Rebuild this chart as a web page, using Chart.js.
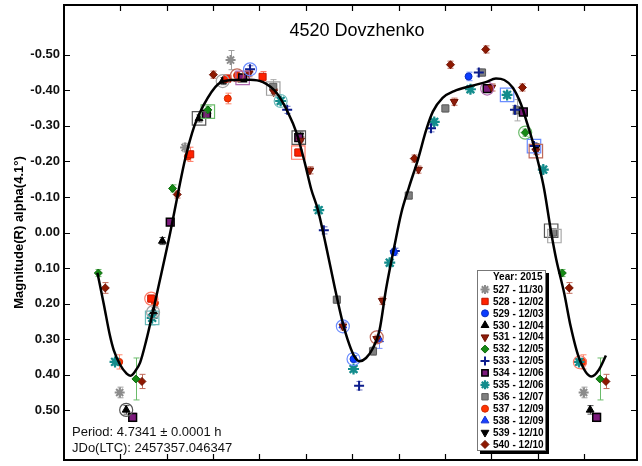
<!DOCTYPE html>
<html>
<head>
<meta charset="utf-8">
<script src="https://cdn.jsdelivr.net/npm/chart.js@4.4.1/dist/chart.umd.min.js"></script>
<style>
  body { margin: 0; background: #fff; }
  canvas { display: block; }
</style>
</head>
<body>
<canvas id="lcChart" width="642" height="466"></canvas>
<script>
// Lightcurve of 4520 Dovzhenko, phased to P = 4.7341 h
const yTicks = [-0.5, -0.4, -0.3, -0.2, -0.1, 0, 0.1, 0.2, 0.3, 0.4, 0.5];
const xTicks = [0, 0.1, 0.2, 0.3, 0.4, 0.5, 0.6, 0.7, 0.8, 0.9, 1.0];

// Fourier fit
const curvePhase = [-0.049, -0.035, -0.022, -0.014, 0.000, 0.014, 0.022, 0.032, 0.043, 0.056,
  0.086, 0.108, 0.125, 0.140, 0.160, 0.179, 0.211, 0.244, 0.280, 0.308, 0.337, 0.362, 0.380,
  0.398, 0.412, 0.426, 0.444, 0.462, 0.480, 0.490, 0.503, 0.516, 0.530, 0.545, 0.559, 0.573,
  0.591, 0.606, 0.622, 0.642, 0.660, 0.674, 0.695, 0.720, 0.756, 0.788, 0.810, 0.828, 0.846,
  0.864, 0.878, 0.892, 0.903, 0.914, 0.929, 0.940, 0.957, 0.971, 0.989, 1.016, 1.032, 1.047];
const curveMag = [0.113, 0.203, 0.290, 0.330, 0.372, 0.397, 0.403, 0.391, 0.366, 0.305,
  0.132, 0.000, -0.112, -0.206, -0.300, -0.356, -0.417, -0.429, -0.430, -0.423, -0.393, -0.337, -0.281,
  -0.196, -0.121, -0.065, 0.039, 0.151, 0.255, 0.300, 0.344, 0.362, 0.353, 0.325, 0.275, 0.160,
  0.039, -0.055, -0.125, -0.206, -0.290, -0.340, -0.379, -0.398, -0.412, -0.423, -0.433, -0.429, -0.408,
  -0.361, -0.304, -0.243, -0.187, -0.121, 0.000, 0.076, 0.170, 0.264, 0.353, 0.405, 0.386, 0.346];

// session points: [phase, mag, error]
const s527 = [[0.140, -0.239, 0.012], [0.238, -0.485, 0.027], [0.999, 0.450, 0.015]];
const s528 = [[0.067, 0.186, 0.010], [0.151, -0.220, 0.020], [0.231, -0.433, 0.010], [0.307, -0.438, 0.015], [0.384, -0.225, 0.010]];
const s529 = [[0.503, 0.356, 0.010], [0.590, 0.055, 0.010], [0.751, -0.439, 0.012]];
const s530 = [[0.013, 0.499, 0.012], [0.072, 0.222, 0.010], [0.091, 0.024, 0.010], [0.170, -0.321, 0.010], [0.221, -0.426, 0.010]];
const s531 = [[0.278, -0.448, 0.010], [0.331, -0.395, 0.010], [0.389, -0.259, 0.010], [0.409, -0.175, 0.010], [0.480, 0.264, 0.010],
  [0.553, 0.299, 0.010], [0.565, 0.192, 0.010], [0.643, -0.177, 0.010], [0.720, -0.368, 0.010], [0.801, -0.408, 0.010], [0.896, -0.229, 0.010]];
const s532 = [[0.034, 0.412, 0.059], [0.113, -0.124, 0.010], [0.189, -0.345, 0.010], [0.873, -0.281, 0.010], [0.953, 0.114, 0.010]];
const s533 = [[0.280, -0.459, 0.010], [0.360, -0.345, 0.010], [0.439, -0.006, 0.010], [0.515, 0.431, 0.012], [0.592, 0.052, 0.008],
  [0.670, -0.293, 0.010], [0.773, -0.450, 0.010], [0.851, -0.345, 0.012], [0.892, -0.243, 0.010]];
const s534 = [[0.027, 0.520, 0.012], [0.108, -0.029, 0.010], [0.186, -0.332, 0.010], [0.264, -0.435, 0.010], [0.385, -0.267, 0.010],
  [0.791, -0.405, 0.010], [0.869, -0.339, 0.010]];
const s535 = [[0.069, 0.240, 0.020], [0.346, -0.370, 0.010], [0.428, -0.063, 0.010], [0.503, 0.384, 0.010], [0.581, 0.085, 0.010],
  [0.677, -0.311, 0.010], [0.755, -0.403, 0.010], [0.834, -0.387, 0.010], [0.912, -0.177, 0.010], [0.989, 0.364, 0.010]];
const s536 = [[0.330, -0.410, 0.020], [0.467, 0.189, 0.010], [0.545, 0.334, 0.012], [0.622, -0.104, 0.010], [0.701, -0.349, 0.010],
  [0.780, -0.450, 0.010], [0.855, -0.344, 0.030], [0.933, 0.000, 0.010]];
const s537 = [[0.075, 0.198, 0.010], [0.146, -0.214, 0.010], [0.232, -0.377, 0.015], [0.252, -0.442, 0.010], [0.998, 0.364, 0.020]];
const s538 = [[0.480, 0.262, 0.010], [0.559, 0.301, 0.025]];
const s539 = [[0.387, -0.273, 0.010], [0.897, -0.240, 0.010]];
const s540 = [[0.047, 0.419, 0.020], [0.123, -0.107, 0.010], [0.201, -0.444, 0.010], [0.634, -0.208, 0.010], [0.712, -0.472, 0.010],
  [0.788, -0.515, 0.010], [0.867, -0.408, 0.010], [0.968, 0.156, 0.015]];

// highlighted points: [phase, mag, session colour, shape]
const rings = [
  [0.067, 0.186, '528', 'o'], [0.069, 0.240, '535', 's'], [0.071, 0.224, '527', 'o'], [0.013, 0.499, '530', 'o'],
  [0.170, -0.321, '530', 's'], [0.189, -0.340, '532', 's'], [0.221, -0.426, '527', 'o'], [0.252, -0.442, '540', 'o'],
  [0.264, -0.435, '534', 's'], [0.280, -0.459, '529', 'o'], [0.330, -0.405, '527', 's'], [0.346, -0.370, '535', 'o'],
  [0.385, -0.267, '530', 's'], [0.384, -0.225, '528', 's'], [0.480, 0.264, '529', 'o'], [0.503, 0.356, '529', 'o'],
  [0.553, 0.295, '540', 'o'], [0.791, -0.405, '534', 'o'], [0.834, -0.387, '529', 's'], [0.873, -0.281, '532', 'o'],
  [0.892, -0.243, '529', 's'], [0.896, -0.229, '540', 's'], [0.929, -0.005, '530', 's'], [0.936, 0.010, '536', 's'],
  [0.991, 0.365, '528', 'o']
];

const sessions = [
  { id: '527', date: '11/30', pts: s527, style: 'star', fill: '#8c8c8c', edge: '#8c8c8c', bw: 2, r: 5, bar: '#a0a0a0' },
  { id: '528', date: '12/02', pts: s528, style: 'rect', fill: '#ff2200', edge: '#c01800', bw: 1, r: 5, bar: '#ff7a66' },
  { id: '529', date: '12/03', pts: s529, style: 'circle', fill: '#0a3cff', edge: '#0a2cc0', bw: 1, r: 3.5, bar: '#6a8cff' },
  { id: '530', date: '12/04', pts: s530, style: 'triangle', fill: '#000000', edge: '#000000', bw: 1, r: 4.5, bar: '#555555' },
  { id: '531', date: '12/04', pts: s531, style: 'triangle', rot: 180, fill: '#8e1c0a', edge: '#6e1000', bw: 1, r: 4.5, bar: '#c06a5a' },
  { id: '532', date: '12/05', pts: s532, style: 'rectRot', fill: '#158a15', edge: '#0f6a0f', bw: 1, r: 4, bar: '#6abb6a' },
  { id: '533', date: '12/05', pts: s533, style: 'cross', fill: '#0c1c8c', edge: '#0c1c8c', bw: 2, r: 5, bar: '#6a74c0' },
  { id: '534', date: '12/06', pts: s534, style: 'rect', fill: '#7c1a7c', edge: '#000000', bw: 1.5, r: 5.5, bar: '#b06ab0' },
  { id: '535', date: '12/06', pts: s535, style: 'star', fill: '#138c8c', edge: '#138c8c', bw: 2.2, r: 5.5, bar: '#6ababa' },
  { id: '536', date: '12/07', pts: s536, style: 'rect', fill: '#808080', edge: '#5a5a5a', bw: 1, r: 5, bar: '#a8a8a8' },
  { id: '537', date: '12/09', pts: s537, style: 'circle', fill: '#ff3300', edge: '#d02800', bw: 1, r: 3.5, bar: '#ff8a70' },
  { id: '538', date: '12/09', pts: s538, style: 'triangle', fill: '#1a40ff', edge: '#1030d0', bw: 1, r: 4.5, bar: '#7a90ff' },
  { id: '539', date: '12/10', pts: s539, style: 'triangle', rot: 180, fill: '#000000', edge: '#000000', bw: 1, r: 4.5, bar: '#555555' },
  { id: '540', date: '12/10', pts: s540, style: 'rectRot', fill: '#8e1800', edge: '#6e1000', bw: 1, r: 4, bar: '#c06a5a' }
];
const sessionById = {};
sessions.forEach(s => { sessionById[s.id] = s; });

// points near the ends of the cycle are repeated one period over
function wrapPoints(pts) {
  const out = [];
  pts.forEach(([p, m, e]) => {
    out.push({ x: p, y: m, e: e });
    if (p < 0.05) out.push({ x: p + 1, y: m, e: e });
    if (p > 0.95) out.push({ x: p - 1, y: m, e: e });
  });
  return out;
}

const FONT = "'Liberation Sans', Arial, sans-serif";
Chart.defaults.font.family = FONT;

const datasets = [{
  label: 'fit',
  data: curvePhase.map((p, i) => ({ x: p, y: curveMag[i] })),
  showLine: true,
  borderColor: '#000',
  borderWidth: 2.5,
  pointRadius: 0,
  cubicInterpolationMode: 'monotone',
  order: 0
}, {
  label: 'rings',
  data: rings.map(r => ({ x: r[0], y: r[1] })),
  pointStyle: ctx => rings[ctx.dataIndex][3] === 'o' ? 'circle' : 'rect',
  pointRadius: ctx => rings[ctx.dataIndex][3] === 'o' ? 6.5 : 9.5,
  backgroundColor: 'rgba(0,0,0,0)',
  borderColor: ctx => sessionById[rings[ctx.dataIndex][2]].bar,
  borderWidth: 1.2,
  order: 1
}];

sessions.forEach(s => {
  datasets.push({
    label: s.id + ' - ' + s.date,
    data: wrapPoints(s.pts),
    pointStyle: s.style,
    rotation: s.rot || 0,
    pointRadius: s.r,
    backgroundColor: s.fill,
    borderColor: s.edge,
    borderWidth: s.bw,
    errColor: s.bar,
    order: 2
  });
});

// vertical error bars behind the markers
const errorBars = {
  id: 'errorBars',
  beforeDatasetsDraw(chart) {
    const { ctx, scales: { x, y } } = chart;
    ctx.save();
    ctx.lineWidth = 1;
    chart.data.datasets.forEach(ds => {
      if (!ds.errColor) return;
      ctx.strokeStyle = ds.errColor;
      ds.data.forEach(pt => {
        const px = Math.round(x.getPixelForValue(pt.x)) + 0.5;
        const y1 = y.getPixelForValue(pt.y - pt.e);
        const y2 = y.getPixelForValue(pt.y + pt.e);
        ctx.beginPath();
        ctx.moveTo(px, y1); ctx.lineTo(px, y2);
        ctx.moveTo(px - 3, y1); ctx.lineTo(px + 3, y1);
        ctx.moveTo(px - 3, y2); ctx.lineTo(px + 3, y2);
        ctx.stroke();
      });
    });
    ctx.restore();
  }
};

// frame, inward ticks, title, period text and session key
const decorations = {
  id: 'decorations',
  afterDraw(chart) {
    const { ctx, chartArea: a, scales: { x, y } } = chart;
    const H = Chart.helpers;
    ctx.save();

    ctx.strokeStyle = '#000';
    ctx.lineWidth = 1.2;
    ctx.beginPath();
    yTicks.forEach(v => {
      const py = Math.round(y.getPixelForValue(v)) + 0.5;
      ctx.moveTo(a.left, py); ctx.lineTo(a.left + 6, py);
      ctx.moveTo(a.right, py); ctx.lineTo(a.right - 6, py);
    });
    xTicks.forEach(v => {
      const px = Math.round(x.getPixelForValue(v)) + 0.5;
      ctx.moveTo(px, a.top); ctx.lineTo(px, a.top + 6);
      ctx.moveTo(px, a.bottom); ctx.lineTo(px, a.bottom - 6);
    });
    ctx.stroke();

    ctx.lineWidth = 2;
    ctx.strokeRect(a.left, a.top, a.right - a.left, a.bottom - a.top);

    ctx.fillStyle = '#000';
    ctx.font = '18px ' + FONT;
    ctx.textAlign = 'center';
    ctx.textBaseline = 'alphabetic';
    ctx.fillText('4520 Dovzhenko', 357, 36);

    ctx.font = '13px ' + FONT;
    ctx.textAlign = 'left';
    ctx.fillStyle = '#111';
    ctx.fillText('Period: 4.7341 \u00b1 0.0001 h', 72, 436);
    ctx.fillText('JDo(LTC): 2457357.046347', 72, 452);

    // session key
    const bx = 477, by = 270, bw = 69, bh = 181;
    ctx.fillStyle = '#000';
    ctx.fillRect(bx + 3, by + 3, bw, bh);
    ctx.fillStyle = '#fff';
    ctx.fillRect(bx, by, bw, bh);
    ctx.strokeStyle = '#777';
    ctx.lineWidth = 1;
    ctx.strokeRect(bx + 0.5, by + 0.5, bw - 1, bh - 1);

    ctx.fillStyle = '#000';
    ctx.font = 'bold 10px ' + FONT;
    ctx.textBaseline = 'middle';
    ctx.fillText('Year: 2015', 493, 277.5);
    sessions.forEach((s, i) => {
      const ry = 289.5 + i * 11.92;
      ctx.fillStyle = s.fill;
      ctx.strokeStyle = s.edge;
      ctx.lineWidth = s.bw;
      H.drawPoint(ctx, { pointStyle: s.style, rotation: s.rot || 0, radius: Math.min(s.r, 4.5), borderWidth: s.bw }, 485, ry);
      ctx.fillStyle = '#000';
      ctx.fillText(s.id + ' - ' + s.date, 493, ry + 0.5);
    });
    ctx.restore();
  }
};

const lcChart = new Chart(document.getElementById('lcChart').getContext('2d'), {
  type: 'scatter',
  data: { datasets: datasets },
  options: {
    responsive: false,
    animation: false,
    events: [],
    layout: { autoPadding: false, padding: { top: 5, right: 5, bottom: 6, left: 0 } },
    scales: {
      x: {
        type: 'linear',
        min: -0.121,
        max: 1.114,
        display: false
      },
      y: {
        type: 'linear',
        min: -0.64,
        max: 0.64,
        reverse: true,
        afterBuildTicks: scale => { scale.ticks = yTicks.map(v => ({ value: v })); },
        afterFit: scale => {
          scale.width = 64;
          scale.paddingTop = 0;
          scale.paddingBottom = 0;
        },
        grid: { display: false, drawTicks: false },
        border: { display: false },
        ticks: {
          padding: 4,
          color: '#111',
          font: { size: 13, weight: 'bold' },
          callback: v => v.toFixed(2)
        },
        title: {
          display: true,
          text: 'Magnitude(R) alpha(4.1\u00b0)',
          color: '#000',
          font: { size: 13, weight: 'bold' },
          padding: { top: 12, bottom: 0 }
        }
      }
    },
    plugins: {
      legend: { display: false },
      tooltip: { enabled: false },
      title: { display: false }
    }
  },
  plugins: [errorBars, decorations]
});
</script>
</body>
</html>
